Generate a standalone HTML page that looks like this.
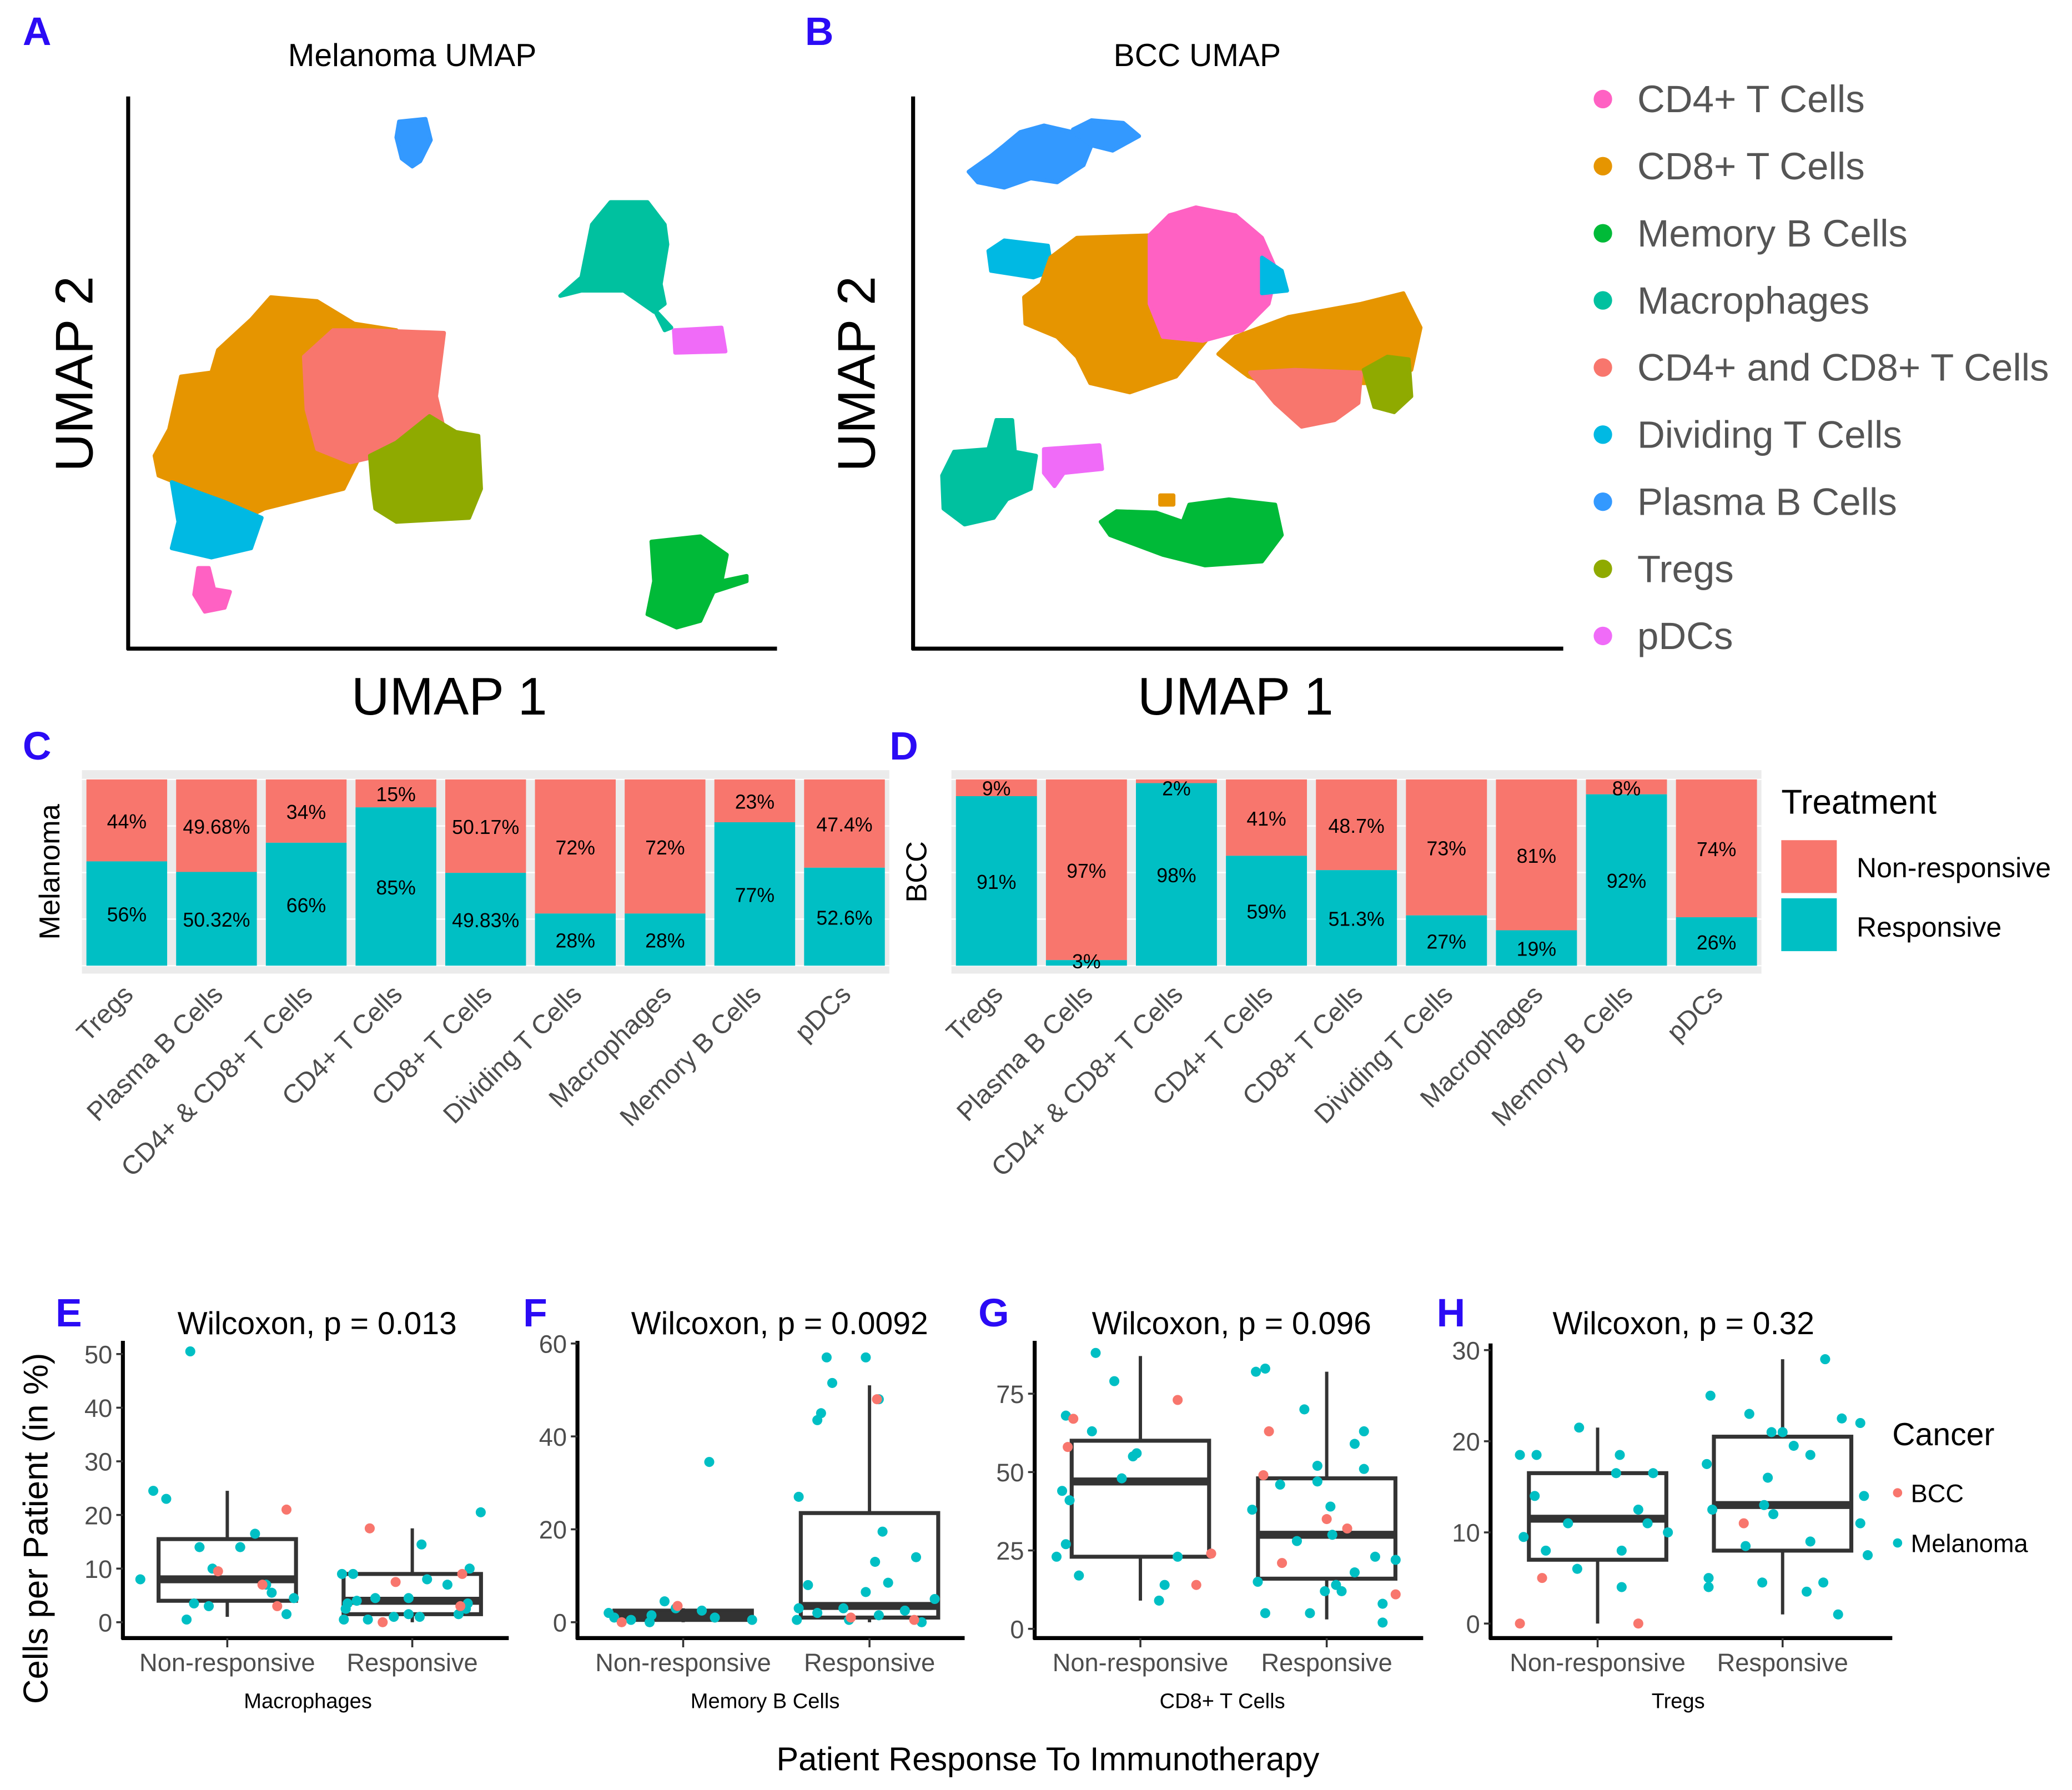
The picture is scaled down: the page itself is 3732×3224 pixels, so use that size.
<!DOCTYPE html>
<html><head><meta charset="utf-8"><style>
html,body{margin:0;padding:0;background:#fff}
svg{display:block;font-family:"Liberation Sans",Arial,sans-serif}
</style></head><body>
<svg id="fig" xmlns="http://www.w3.org/2000/svg" width="3732" height="3224" viewBox="0 0 1568 1355" preserveAspectRatio="none">
<rect width="1568" height="1355" fill="#fff"/>
<g id="umap"></g>
<g id="bars"></g>
<g id="boxes"></g>
</svg>
<script>
const NS='http://www.w3.org/2000/svg';
function mk(parent,tag,attrs,text){const e=document.createElementNS(NS,tag);for(const k in attrs)e.setAttribute(k,attrs[k]);if(text!==undefined)e.textContent=text;parent.appendChild(e);return e;}
const BLUE='#2B0BF5';
const COL={cd4:'#FF61C3',cd8:'#E69500',memb:'#00BA38',mac:'#00C19F',cd48:'#F8766D',div:'#00B9E3',plb:'#3399FF',treg:'#8FAA00',pdc:'#F06BF8'};
const SAL='#F8766D', TEAL='#00BFC4';

/* ---------- UMAP panels ---------- */
const U=document.getElementById('umap');
function label(t,x,y){const e=mk(U,'text',{x:x,y:y,'font-size':30,'font-weight':'bold',fill:BLUE,'text-anchor':'middle'},t);}
label('A',28,34);label('B',620,34);
function blob(pts,c,name){const e=mk(U,'polygon',{points:pts.map(p=>p.join(',')).join(' '),fill:c,stroke:c,'stroke-width':3,'stroke-linejoin':'round'});}
blob([[302,92],[322,90],[326,106],[318,122],[312,126],[304,120],[300,104]],COL.plb,'mel-plasma-b-cluster');
blob([[440,210],[448,170],[462,153],[490,153],[503,170],[505,185],[500,215],[503,230],[495,236],[472,220],[440,220],[424,224]],COL.mac,'mel-macrophage-cluster');
blob([[495,234],[508,248],[503,250]],COL.mac,'mel-macrophage-tail');
blob([[510,250],[546,248],[549,266],[511,267]],COL.pdc,'mel-pdc-cluster');
blob([[493,410],[530,406],[550,420],[546,440],[565,436],[565,440],[540,448],[530,470],[512,475],[490,465],[495,440]],COL.memb,'mel-memory-b-cluster');
blob([[117,345],[128,325],[137,285],[160,282],[165,265],[190,242],[205,225],[240,228],[268,245],[300,250],[280,330],[260,370],[200,385],[180,395],[150,372],[120,360]],COL.cd8,'mel-cd8-cluster');
blob([[230,270],[252,250],[280,250],[336,252],[330,300],[336,325],[300,342],[265,350],[240,340],[232,310]],COL.cd48,'mel-cd4-cd8-cluster');
blob([[280,345],[300,335],[325,315],[345,327],[362,330],[364,370],[355,392],[300,395],[284,385],[282,370]],COL.treg,'mel-treg-cluster');
blob([[130,365],[148,372],[170,380],[198,392],[190,415],[160,422],[130,415],[135,395]],COL.div,'mel-dividing-t-cluster');
blob([[150,430],[158,430],[162,446],[174,448],[170,460],[155,463],[147,450]],COL.cd4,'mel-cd4-cluster');
blob([[733,130],[750,118],[760,110],[772,100],[790,95],[812,100],[826,110],[820,125],[800,138],[780,135],[760,142],[740,138]],COL.plb,'bcc-plasma-b-cluster');
blob([[812,98],[826,91],[850,93],[862,103],[842,114],[826,110]],COL.plb,'bcc-plasma-b-cluster-2');
blob([[748,190],[760,182],[793,186],[796,205],[782,210],[750,205]],COL.div,'bcc-dividing-t-cluster');
blob([[775,225],[788,215],[795,195],[815,180],[875,178],[880,250],[915,255],[890,285],[855,297],[825,290],[815,270],[800,255],[776,245]],COL.cd8,'bcc-cd8-cluster');
blob([[870,178],[885,163],[905,157],[935,163],[955,180],[966,205],[960,230],[940,250],[910,258],[880,255],[870,230]],COL.cd4,'bcc-cd4-cluster');
blob([[955,195],[970,205],[974,220],[955,222]],COL.div,'bcc-dividing-t-right');
blob([[922,268],[935,255],[975,240],[1030,230],[1062,222],[1075,248],[1068,280],[1040,290],[1000,290],[970,295],[945,285]],COL.cd8,'bcc-cd8-cluster-2');
blob([[946,282],[980,280],[1030,282],[1028,305],[1010,318],[985,323],[965,305]],COL.cd48,'bcc-cd4-cd8-cluster');
blob([[1032,280],[1050,270],[1066,272],[1068,300],[1055,312],[1040,308]],COL.treg,'bcc-treg-cluster');
blob([[754,318],[766,318],[768,342],[784,345],[780,370],[762,378],[752,392],[730,397],[714,385],[713,360],[722,342],[748,340]],COL.mac,'bcc-macrophage-cluster');
blob([[790,340],[832,337],[834,355],[805,358],[798,368],[790,358]],COL.pdc,'bcc-pdc-cluster');
blob([[833,395],[845,387],[875,388],[895,395],[900,382],[930,378],[965,382],[970,405],[955,425],[912,428],[880,420],[840,405]],COL.memb,'bcc-memory-b-cluster');
blob([[878,375],[888,375],[888,382],[878,382]],COL.cd8,'bcc-cd8-speck');
function ax(x0,y0,x1,y1,name){const e=mk(U,'line',{x1:x0,y1:y0,x2:x1,y2:y1,stroke:'#000','stroke-width':3});}
ax(97,73,97,492,'mel-umap-y-axis');ax(96,491,588,491,'mel-umap-x-axis');
ax(691,73,691,492,'bcc-umap-y-axis');ax(690,491,1183,491,'bcc-umap-x-axis');
function txt(p,t,x,y,sz,attrs,name){const a=Object.assign({x:x,y:y,'font-size':sz,'text-anchor':'middle',fill:'#000'},attrs||{});const e=mk(p,'text',a,t);return e;}
txt(U,'Melanoma UMAP',312,50,24,{},'mel-umap-title');
txt(U,'BCC UMAP',906,50,24,{},'bcc-umap-title');
txt(U,'UMAP 1',340,541,40,{},'mel-umap-x-title');
txt(U,'UMAP 1',935,541,40,{},'bcc-umap-x-title');
txt(U,'UMAP 2',70,283,40,{transform:'rotate(-90 70 283)'},'mel-umap-y-title');
txt(U,'UMAP 2',662,283,40,{transform:'rotate(-90 662 283)'},'bcc-umap-y-title');
const legNames=['CD4+ T Cells','CD8+ T Cells','Memory B Cells','Macrophages','CD4+ and CD8+ T Cells','Dividing T Cells','Plasma B Cells','Tregs','pDCs'];
const legCols=[COL.cd4,COL.cd8,COL.memb,COL.mac,COL.cd48,COL.div,COL.plb,COL.treg,COL.pdc];
legNames.forEach((n,i)=>{const y=75+i*50.8;
 const g=mk(U,'g',{});
 mk(g,'circle',{cx:1213,cy:y,r:7,fill:legCols[i]});
 mk(g,'text',{x:1239,y:y+10,'font-size':29,fill:'#555'},n);});

/* ---------- Stacked bar panels ---------- */
const barCats=['Tregs','Plasma B Cells','CD4+ & CD8+ T Cells','CD4+ T Cells','CD8+ T Cells','Dividing T Cells','Macrophages','Memory B Cells','pDCs'];
const melNon=[44,49.68,34,15,50.17,72,72,23,47.4];
const melNonLbl=['44%','49.68%','34%','15%','50.17%','72%','72%','23%','47.4%'];
const melResLbl=['56%','50.32%','66%','85%','49.83%','28%','28%','77%','52.6%'];
const bccNon=[9,97,2,41,48.7,73,81,8,74];
const bccNonLbl=['9%','97%','2%','41%','48.7%','73%','81%','8%','74%'];
const bccResLbl=['91%','3%','98%','59%','51.3%','27%','19%','92%','26%'];
const B=document.getElementById('bars');
function barPanel(px0,px1,non,nl,rl,tag,ylab,lx,L,lblx){
 const bg=mk(B,'rect',{x:px0,y:583,width:px1-px0,height:154,fill:'#EBEBEB'});
 const top=590,bot=731,h=bot-top,n=barCats.length,step=(px1-px0)/n;
 for(let k=0;k<=4;k++){mk(B,'line',{x1:px0,x2:px1,y1:top+h*k/4,y2:top+h*k/4,stroke:'#fff','stroke-width':1});}
 barCats.forEach((c,i)=>{const cx=px0+step*(i+0.5),w=step*0.9,x=cx-w/2;
  const yN=top+h*non[i]/100;
  const r1=mk(B,'rect',{x:x,y:top,width:w,height:yN-top,fill:SAL});
  const r2=mk(B,'rect',{x:x,y:yN,width:w,height:bot-yN,fill:TEAL});
  let ty1=(top+yN)/2+6, ty2=(yN+bot)/2+6;
  if(non[i]<12) ty1=top+12; if(non[i]>95) ty2=bot+2;
  txt(B,nl[i],cx,ty1,15,{},'bar-label-'+tag+'-non-'+i);
  txt(B,rl[i],cx,ty2,15,{},'bar-label-'+tag+'-res-'+i);
  txt(B,c,cx+6,754,20,{'text-anchor':'end',fill:'#4D4D4D',transform:'rotate(-45 '+(cx+6)+' 754)'},'x-tick-'+tag+'-'+i);
 });
 txt(B,ylab,lx+8,660,22,{transform:'rotate(-90 '+(lx+8)+' 660)'},tag+'-y-title');
 const e=mk(B,'text',{x:lblx,y:575,'font-size':30,'font-weight':'bold',fill:BLUE,'text-anchor':'middle'},L);
}
barPanel(62,673,melNon,melNonLbl,melResLbl,'melanoma','Melanoma',37,'C',28);
barPanel(720,1333,bccNon,bccNonLbl,bccResLbl,'bcc','BCC',693,'D',684);
txt(B,'Treatment',1348,616,26,{'text-anchor':'start'},'treatment-legend-title');
const k1=mk(B,'rect',{x:1348,y:636,width:42,height:40,fill:SAL});
const k2=mk(B,'rect',{x:1348,y:680,width:42,height:40,fill:TEAL});
txt(B,'Non-responsive',1405,664,21,{'text-anchor':'start'},'legend-label-nonresponsive');
txt(B,'Responsive',1405,709,21,{'text-anchor':'start'},'legend-label-responsive');

/* ---------- Boxplots ---------- */
const macStats=[[4,8,15.5,1,24.5],[1.5,4,9,0,17.5]];
const membStats=[[0.5,1.5,2.5,0,3],[1,3.5,23.5,0,51]];
const cd8Stats=[[23,47,60,9,87],[16,30,48,3,82]];
const tregStats=[[7,11.5,16.5,0,21.5],[8,13,20.5,1,29]];
const macNR=[[50.5,-0.2,'M'],[24.5,-0.4,'M'],[23,-0.33,'M'],[14,-0.15,'M'],[14,0.07,'M'],[16.5,0.15,'M'],[10,-0.08,'M'],[8,-0.47,'M'],[7,0.21,'M'],[5.5,0.24,'M'],[4.5,0.36,'M'],[3.5,-0.18,'M'],[3,-0.1,'M'],[0.5,-0.22,'M'],[1.5,0.32,'M'],[21,0.32,'B'],[9.5,-0.05,'B'],[7,0.19,'B'],[3,0.27,'B']];
const macR=[[20.5,0.37,'M'],[14.5,0.05,'M'],[9,-0.38,'M'],[9,-0.32,'M'],[8,0.08,'M'],[7,0.19,'M'],[4.5,-0.2,'M'],[4.5,-0.02,'M'],[3.5,-0.35,'M'],[4,-0.3,'M'],[2.5,-0.36,'M'],[0.5,-0.37,'M'],[0.5,-0.24,'M'],[1,-0.1,'M'],[1.5,-0.02,'M'],[1,0.04,'M'],[1.5,0.25,'M'],[2.5,0.29,'M'],[3.5,0.3,'M'],[10,0.31,'M'],[17.5,-0.23,'B'],[7.5,-0.09,'B'],[0,-0.16,'B'],[9,0.27,'B'],[3,0.26,'B']];
const membNR=[[34.5,0.14,'M'],[4.5,-0.1,'M'],[3,-0.04,'M'],[2,-0.4,'M'],[1,-0.37,'M'],[0.5,-0.28,'M'],[1.5,-0.17,'M'],[2.5,0.1,'M'],[1,0.17,'M'],[0.5,0.37,'M'],[0,-0.18,'M'],[3.5,-0.03,'B'],[0,-0.33,'B']];
const membR=[[57,-0.23,'M'],[57,-0.02,'M'],[51.5,-0.2,'M'],[45,-0.26,'M'],[43.5,-0.28,'M'],[27,-0.38,'M'],[48,0.05,'M'],[19.5,0.07,'M'],[13,0.03,'M'],[14,0.25,'M'],[8.5,0.1,'M'],[8,-0.33,'M'],[6.5,-0.02,'M'],[5,0.35,'M'],[3,-0.38,'M'],[3,-0.14,'M'],[2,-0.28,'M'],[0.5,-0.39,'M'],[0.5,-0.11,'M'],[1.5,0.05,'M'],[2.5,0.19,'M'],[0,0.28,'M'],[48,0.04,'B'],[1,-0.1,'B'],[0.5,0.24,'B']];
const cd8NR=[[88,-0.24,'M'],[79,-0.14,'M'],[68,-0.4,'M'],[63,-0.26,'M'],[55,-0.04,'M'],[56,-0.02,'M'],[48,-0.1,'M'],[44,-0.42,'M'],[41,-0.38,'M'],[27,-0.4,'M'],[23,-0.45,'M'],[23,0.2,'M'],[17,-0.33,'M'],[14,0.13,'M'],[9,0.1,'M'],[73,0.2,'B'],[67,-0.36,'B'],[58,-0.39,'B'],[24,0.38,'B'],[14,0.3,'B']];
const cd8R=[[82,-0.38,'M'],[83,-0.33,'M'],[70,-0.12,'M'],[63,0.2,'M'],[59,0.15,'M'],[52,-0.05,'M'],[51,0.2,'M'],[46,-0.25,'M'],[47,-0.05,'M'],[38,-0.4,'M'],[39,0.02,'M'],[30,0.03,'M'],[28,-0.16,'M'],[23,0.26,'M'],[22,0.37,'M'],[18,0.15,'M'],[15,-0.37,'M'],[14,0.05,'M'],[12,-0.01,'M'],[12,0.08,'M'],[8,0.3,'M'],[5,-0.33,'M'],[5,-0.09,'M'],[2,0.3,'M'],[63,-0.31,'B'],[49,-0.34,'B'],[35,0.0,'B'],[32,0.11,'B'],[21,-0.24,'B'],[11,0.37,'B']];
const tregNR=[[21.5,-0.1,'M'],[18.5,-0.42,'M'],[18.5,-0.33,'M'],[18.5,0.12,'M'],[16.5,0.3,'M'],[16.5,0.1,'M'],[14,-0.34,'M'],[12.5,0.22,'M'],[11,0.27,'M'],[11,-0.16,'M'],[10,0.38,'M'],[9.5,-0.4,'M'],[8,-0.28,'M'],[8,0.13,'M'],[6,-0.11,'M'],[4,0.13,'M'],[5,-0.3,'B'],[0,-0.42,'B'],[0,0.22,'B']];
const tregR=[[29,0.23,'M'],[25,-0.39,'M'],[23,-0.18,'M'],[22.5,0.32,'M'],[22,0.42,'M'],[21,-0.06,'M'],[21,0.0,'M'],[19.5,0.06,'M'],[18.5,0.15,'M'],[17.5,-0.41,'M'],[16,-0.08,'M'],[14,0.44,'M'],[13,-0.1,'M'],[12.5,-0.38,'M'],[12,-0.05,'M'],[11,0.42,'M'],[9,0.15,'M'],[8.5,-0.2,'M'],[7.5,0.46,'M'],[5,-0.4,'M'],[4,-0.4,'M'],[4.5,-0.11,'M'],[4.5,0.22,'M'],[3.5,0.13,'M'],[1,0.3,'M'],[11,-0.21,'B']];
const macTicks=[0,10,20,30,40,50];
const membTicks=[0,20,40,60];
const cd8Ticks=[0,25,50,75];
const tregTicks=[0,10,20,30];
const groups=['Non-responsive','Responsive'];

const X=document.getElementById('boxes');
function boxPanel(o){
 const g=mk(X,'g',{});
 const y=v=>o.y0-(v-o.ticks[0])*(o.y0-o.yTop)/(o.tMax-o.ticks[0]);
 const cx=i=>o.c0+i*(o.c1-o.c0);
 const sp=o.c1-o.c0;
 const ya=mk(g,'line',{x1:o.ax,x2:o.ax,y1:o.axTop,y2:1241,stroke:'#000','stroke-width':3});
 const xa=mk(g,'line',{x1:o.ax-1,x2:o.axR,y1:1240,y2:1240,stroke:'#000','stroke-width':3});
 o.ticks.forEach((t,i)=>{mk(g,'line',{x1:o.ax-5,x2:o.ax,y1:y(t),y2:y(t),stroke:'#333','stroke-width':1.5});
  const e=mk(g,'text',{x:o.ax-8,y:y(t)+7,'font-size':19,fill:'#4D4D4D','text-anchor':'end'},String(t));});
 groups.forEach((gn,i)=>{const c=cx(i),s=o.stats[i],bw=52;
  mk(g,'line',{x1:c,x2:c,y1:1240,y2:1247,stroke:'#333','stroke-width':1.5});
  const wl=mk(g,'line',{x1:c,x2:c,y1:y(s[3]),y2:y(s[4]),stroke:'#333','stroke-width':2.5});
  const bx=mk(g,'rect',{x:c-bw,y:y(s[2]),width:bw*2,height:y(s[0])-y(s[2]),fill:'#fff',stroke:'#333','stroke-width':3});
  const md=mk(g,'line',{x1:c-bw,x2:c+bw,y1:y(s[1]),y2:y(s[1]),stroke:'#333','stroke-width':6});
  const e=mk(g,'text',{x:c,y:1265,'font-size':19,fill:'#4D4D4D','text-anchor':'middle'},gn);
  o.pts[i].forEach((p,j)=>{const d=mk(g,'circle',{cx:c+p[1]*sp,cy:y(p[0]),r:3.8,fill:p[2]==='B'?SAL:TEAL});});
 });
 const t=mk(g,'text',{x:o.tx,y:1010,'font-size':24,fill:'#000','text-anchor':'middle'},o.title);
 const s=mk(g,'text',{x:o.sx,y:1293,'font-size':16,fill:'#000','text-anchor':'middle'},o.sub);
 const L=mk(g,'text',{x:o.lx,y:1004,'font-size':30,'font-weight':'bold',fill:BLUE,'text-anchor':'middle'},o.L);
}
boxPanel({tag:'macrophages',ax:93,axR:385,axTop:1015,c0:172,c1:312,ticks:macTicks,tMax:50,y0:1228,yTop:1025,stats:macStats,pts:[macNR,macR],title:'Wilcoxon, p = 0.013',tx:240,sub:'Macrophages',sx:233,L:'E',lx:52});
boxPanel({tag:'memory-b',ax:437,axR:730,axTop:1015,c0:517,c1:658,ticks:membTicks,tMax:60,y0:1228,yTop:1017,stats:membStats,pts:[membNR,membR],title:'Wilcoxon, p = 0.0092',tx:590,sub:'Memory B Cells',sx:579,L:'F',lx:405});
boxPanel({tag:'cd8',ax:783,axR:1077,axTop:1015,c0:863,c1:1004,ticks:cd8Ticks,tMax:75,y0:1233,yTop:1055,stats:cd8Stats,pts:[cd8NR,cd8R],title:'Wilcoxon, p = 0.096',tx:932,sub:'CD8+ T Cells',sx:925,L:'G',lx:752});
boxPanel({tag:'tregs',ax:1128,axR:1432,axTop:1017,c0:1209,c1:1349,ticks:tregTicks,tMax:30,y0:1229,yTop:1022,stats:tregStats,pts:[tregNR,tregR],title:'Wilcoxon, p = 0.32',tx:1274,sub:'Tregs',sx:1270,L:'H',lx:1098});
txt(X,'Cells per Patient (in %)',36,1157,26,{transform:'rotate(-90 36 1157)'},'boxplot-y-title');
txt(X,'Patient Response To Immunotherapy',793,1340,25,{},'boxplot-x-title');
txt(X,'Cancer',1432,1094,24,{'text-anchor':'start'},'cancer-legend-title');
const c1=mk(X,'circle',{cx:1436,cy:1130,r:3.5,fill:SAL});
const c2=mk(X,'circle',{cx:1436,cy:1168,r:3.5,fill:TEAL});
txt(X,'BCC',1446,1137,19,{'text-anchor':'start'},'legend-label-bcc');
txt(X,'Melanoma',1446,1175,19,{'text-anchor':'start'},'legend-label-melanoma');
</script>
</body></html>
